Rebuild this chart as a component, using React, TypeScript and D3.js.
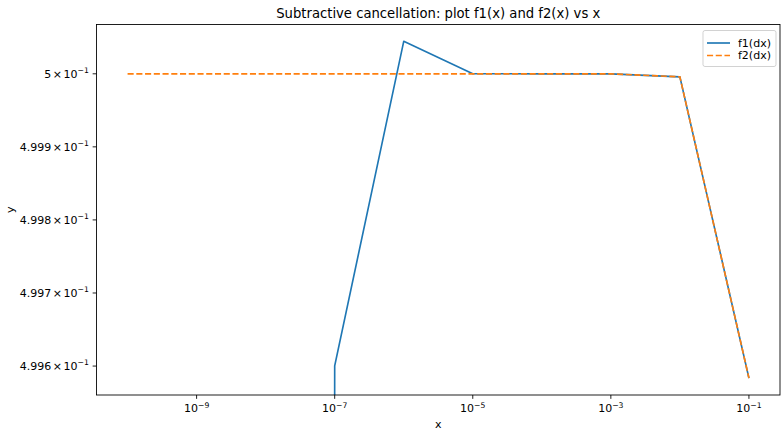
import React from "react";
import * as d3 from "d3";

// step sizes dx and the two formulas evaluated at them
const dxValues = [1e-10, 1e-9, 1e-8, 1e-7, 1e-6, 1e-5, 1e-4, 1e-3, 1e-2, 1e-1];
const f1Values = [0, 0, 0, 0.4996003610813205, 0.5000444502911705, 0.5000000413701854, 0.4999999969612645, 0.49999995832550326, 0.4999958333473687, 0.49958347219742816];
const f2Values = [0.5, 0.5, 0.5, 0.5, 0.49999999999995837, 0.49999999999583333, 0.4999999995833334, 0.49999995833333335, 0.4999958333473664, 0.4995834721974179];

const xTicks = [1e-9, 1e-7, 1e-5, 1e-3, 1e-1];
const xTickExps = ["−9", "−7", "−5", "−3", "−1"];
const yTicks = [0.4996, 0.4997, 0.4998, 0.4999, 0.5];
const yTickMantissas = ["4.996", "4.997", "4.998", "4.999", "5"];

const seriesNames = ["f1(dx)", "f2(dx)"];
const colors = ["#1f77b4", "#ff7f0e"];

const W = 781, H = 430;
const left = 96.5, right = 780, top = 24.5, bottom = 395;
const font = "DejaVu Sans, sans-serif";
const dash = "6.1 2.64";

// log-space extent padded by 5% like matplotlib's autoscale
const padLog = (vals: number[]) => {
  const [a, b] = d3.extent(vals.filter(v => v > 0).map(Math.log10)) as [number, number];
  const m = (b - a) * 0.05;
  return [Math.pow(10, a - m), Math.pow(10, b + m)];
};

const App = () => {
  const x = d3.scaleLog().domain(padLog(dxValues)).range([left, right]);
  const y = d3.scaleLog().domain(padLog([...f1Values, ...f2Values])).range([bottom, top]);
  const yPix = (v: number) => (v > 0 ? y(v) : bottom + 100000);

  const line = (vals: number[]) =>
    d3.line<number>().x((_, i) => x(dxValues[i])).y(v => yPix(v))(vals) || "";

  return (
    <svg width={W} height={H} style={{ position: "absolute", left: 0, top: 0 }} fontFamily={font}>
      <rect width={W} height={H} fill="#fff" />
      <defs>
        <clipPath id="plot">
          <rect x={left} y={top} width={right - left} height={bottom - top} />
        </clipPath>
      </defs>

      <g clipPath="url(#plot)" fill="none" strokeWidth={1.65}>
        <path d={line(f1Values)} stroke={colors[0]} strokeLinejoin="round" />
        <path d={line(f2Values)} stroke={colors[1]} strokeDasharray={dash} />
      </g>

      <rect x={left} y={top} width={right - left} height={bottom - top} fill="none" stroke="#000" strokeWidth={0.88} />

      {xTicks.map((t, i) => (
        <g key={t} transform={`translate(${x(t)},${bottom})`}>
          <line y2={3.85} stroke="#000" strokeWidth={0.88} />
          <text y={17.3} textAnchor="middle" fontSize={11}>
            10<tspan dy={-4.5} fontSize={7.7}>{xTickExps[i]}</tspan>
          </text>
        </g>
      ))}

      {yTicks.map((t, i) => (
        <g key={t} transform={`translate(${left},${y(t)})`}>
          <line x2={-3.85} stroke="#000" strokeWidth={0.88} />
          <text x={-7.7} dy="0.35em" textAnchor="end" fontSize={11}>
            {yTickMantissas[i]}<tspan dx={1.5}>×</tspan><tspan dx={1.5}>10</tspan>
            <tspan dy={-4.5} fontSize={7.7}>−1</tspan>
          </text>
        </g>
      ))}

      <text x={(left + right) / 2} y={18} textAnchor="middle" fontSize={13.2}>
        Subtractive cancellation: plot f1(x) and f2(x) vs x
      </text>
      <text x={(left + right) / 2} y={428} textAnchor="middle" fontSize={11}>x</text>
      <text transform={`translate(13.5,${(top + bottom) / 2}) rotate(-90)`} textAnchor="middle" fontSize={11}>y</text>

      <g>
        <rect x={703} y={30.5} width={73} height={36} rx={2} fill="#fff" fillOpacity={0.8} stroke="#ccc" strokeWidth={0.88} />
        {seriesNames.map((name, i) => (
          <g key={name} transform={`translate(707,${43 + i * 12.5})`}>
            <line x2={23} stroke={colors[i]} strokeWidth={1.65} strokeDasharray={i === 1 ? dash : undefined} />
            <text x={31} dy="0.35em" fontSize={11}>{name}</text>
          </g>
        ))}
      </g>
    </svg>
  );
};

export default App;
